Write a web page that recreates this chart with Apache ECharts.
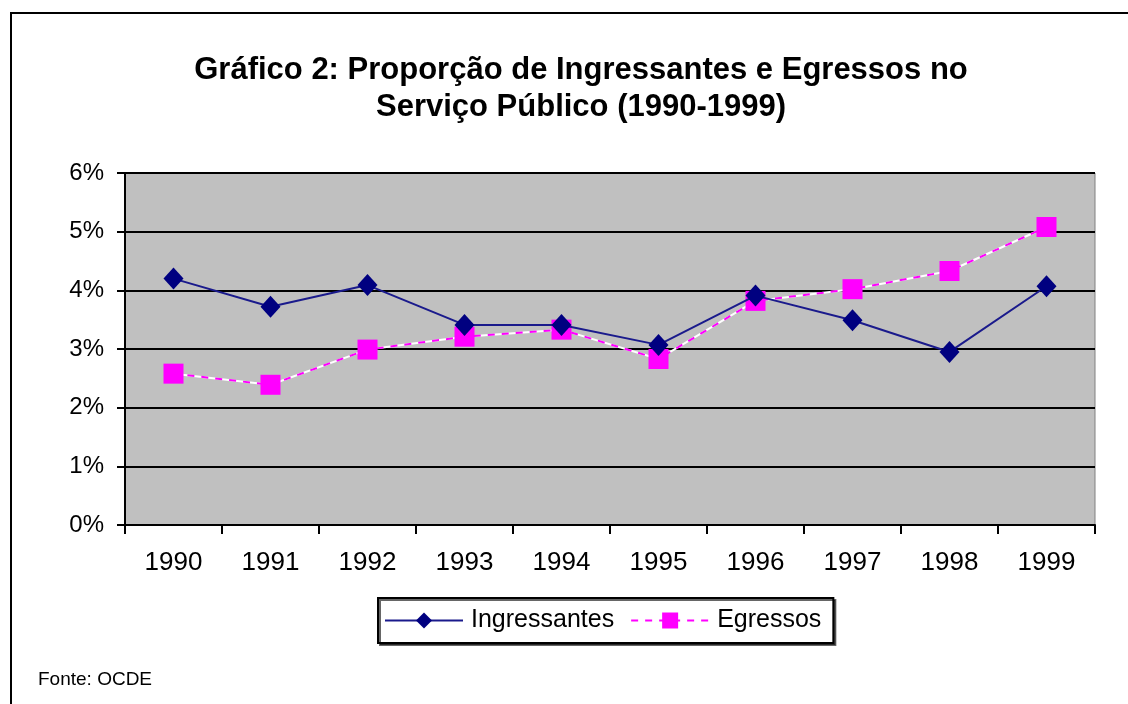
<!DOCTYPE html>
<html>
<head>
<meta charset="utf-8">
<script src="https://cdn.jsdelivr.net/npm/echarts@6/dist/echarts.min.js"></script>
<style>
    html, body { margin: 0; padding: 0; background: #fff; }
    #chart { width: 1128px; height: 704px; }
</style>
</head>
<body>
<div id="chart"></div>
<script>
(function () {

    var YEARS = ['1990', '1991', '1992', '1993', '1994', '1995', '1996', '1997', '1998', '1999'];
    var INGRESSANTES = [4.20, 3.72, 4.09, 3.41, 3.41, 3.07, 3.91, 3.49, 2.95, 4.07];
    var EGRESSOS = [2.58, 2.39, 2.99, 3.21, 3.33, 2.83, 3.82, 4.02, 4.33, 5.08];

    var FONT = 'Liberation Sans, Arial, sans-serif';

    var CHART = echarts.init(document.getElementById('chart'));

    var option = {
        backgroundColor: '#ffffff',
        animation: false,
        title: {
            text: 'Gráfico 2: Proporção de Ingressantes e Egressos no\nServiço Público (1990-1999)',
            left: 576,
            top: 47,
            textAlign: 'center',
            textStyle: {
                fontFamily: FONT,
                fontSize: 31,
                fontWeight: 'bold',
                color: '#000',
                lineHeight: 37
            }
        },
        graphic: [
            {
                type: 'polyline',
                shape: { points: [[11, 704], [11, 13], [1128, 13]] },
                style: { stroke: '#000', lineWidth: 2, fill: null }
            },
            {
                type: 'text',
                left: 38,
                top: 670,
                style: { text: 'Fonte: OCDE', font: '19px ' + FONT, fill: '#000' }
            }
        ],
        legend: {
            data: ['Ingressantes', 'Egressos'],
            left: 378,
            top: 598,
            orient: 'horizontal',
            itemWidth: 78,
            itemHeight: 20,
            itemGap: 16,
            padding: [10, 12, 10, 6],
            borderColor: '#000',
            borderWidth: 2,
            backgroundColor: '#fff',
            shadowColor: 'rgba(0,0,0,0.6)',
            shadowOffsetX: 2,
            shadowOffsetY: 2,
            shadowBlur: 0,
            textStyle: { fontFamily: FONT, fontSize: 25, color: '#000', padding: [0, 0, 0, 3] }
        },
        grid: {
            left: 125,
            right: 33,
            top: 173,
            bottom: 179,
            show: true,
            backgroundColor: '#c0c0c0',
            borderColor: '#808080',
            borderWidth: 1
        },
        xAxis: {
            type: 'category',
            data: YEARS,
            boundaryGap: true,
            axisLine: { lineStyle: { color: '#000', width: 2 } },
            axisTick: { show: true, alignWithLabel: false, length: 9, lineStyle: { color: '#000', width: 2 } },
            axisLabel: { fontFamily: FONT, fontSize: 26, color: '#000', margin: 25 },
            splitLine: { show: false }
        },
        yAxis: {
            type: 'value',
            min: 0,
            max: 6,
            interval: 1,
            axisLine: { show: true, lineStyle: { color: '#000', width: 2 } },
            axisTick: { show: true, length: 8, lineStyle: { color: '#000', width: 2 } },
            axisLabel: {
                fontFamily: FONT,
                fontSize: 24,
                color: '#000',
                margin: 21,
                formatter: function (v) { return v + '%'; }
            },
            splitLine: { show: true, lineStyle: { color: '#000', width: 2 } }
        },
        series: [
            {
                name: 'Egressos (fundo)',
                type: 'line',
                data: EGRESSOS,
                symbol: 'none',
                silent: true,
                lineStyle: { color: '#ffffff', width: 2, type: 'solid' },
                z: 2
            },
            {
                name: 'Egressos',
                type: 'line',
                data: EGRESSOS,
                symbol: 'rect',
                symbolSize: 20,
                itemStyle: { color: '#ff00ff' },
                lineStyle: { color: '#ff00ff', width: 2, type: [7, 7] },
                z: 3
            },
            {
                name: 'Ingressantes',
                type: 'line',
                data: INGRESSANTES,
                symbol: 'diamond',
                symbolSize: [20, 22],
                itemStyle: { color: '#000080' },
                lineStyle: { color: '#1a1a8c', width: 2 },
                z: 4
            }
        ]
    };

    CHART.setOption(option);

}());
</script>
</body>
</html>
